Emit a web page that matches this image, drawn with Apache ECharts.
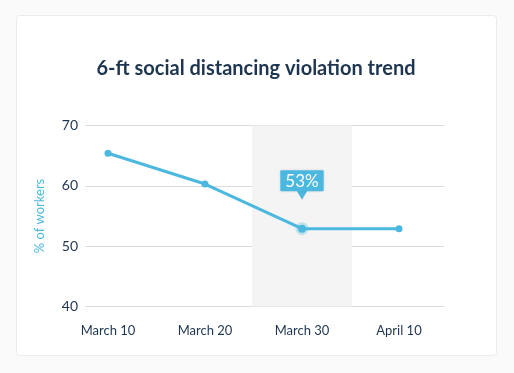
<!DOCTYPE html>
<html><head><meta charset="utf-8">
<script src="https://cdn.jsdelivr.net/npm/echarts@6/dist/echarts.min.js"></script>
<style>html,body{margin:0;padding:0;background:#fafafa;}#c{width:514px;height:373px;}</style>
</head><body><div id="c"></div>
<script>
const categories = ['March 10', 'March 20', 'March 30', 'April 10'];
const workerPct = [65.4, 60.3, 52.9, 52.9];
const highlightIndex = 2;
const yTicks = [40, 50, 60, 70];

const C = '#4cb8df';
const navy = '#1e3550';
const chart = echarts.init(document.getElementById('c'));
const lineData = workerPct.map((v, i) => i === highlightIndex ? {
  value: v,
  symbolSize: 8,
  itemStyle: { color: C, borderColor: 'rgba(76,184,223,0.3)', borderWidth: 5 },
  label: {
    show: true, position: 'top', distance: 31,
    formatter: p => Math.round(p.value) + '%',
    color: '#fff', fontFamily: 'Lato', fontSize: 17, fontWeight: 'normal',
    backgroundColor: C, padding: [3, 5, 1, 5], borderRadius: 1,
    shadowColor: 'rgba(0,0,0,0.12)', shadowBlur: 3
  }
} : v);
const bandData = categories.map((c, i) => i === highlightIndex ? yTicks[yTicks.length - 1] : '-');

chart.setOption({
  backgroundColor: '#fafafa',
  graphic: [{
    type: 'rect', z: -10, silent: true,
    shape: { x: 16.5, y: 15.5, width: 480, height: 340, r: 3 },
    style: { fill: '#fff', stroke: '#ebebeb', lineWidth: 1 }
  }],
  title: {
    text: '6-ft social distancing violation trend',
    left: 251, textAlign: 'center', top: 54,
    textStyle: { fontFamily: 'Lato', fontWeight: 'bold', fontSize: 20, color: navy }
  },
  grid: [
    { left: 59.5, right: 66.5, top: 125.5, bottom: 66.5 },
    { left: 85, right: 70, top: 125.5, bottom: 66.5 }
  ],
  xAxis: [
    { type: 'category', data: categories, gridIndex: 0, boundaryGap: true,
      axisLine: { show: false }, axisTick: { show: false },
      axisLabel: { margin: 18, color: navy, fontFamily: 'Lato', fontSize: 13 } },
    { type: 'value', gridIndex: 1, show: false, min: 0, max: 1 }
  ],
  yAxis: [
    { type: 'value', gridIndex: 0, min: 40, max: 70, interval: 10, show: false },
    { type: 'value', gridIndex: 1, min: 40, max: 70, interval: 10,
      name: '% of workers', nameLocation: 'middle', nameGap: 39,
      nameTextStyle: { color: C, fontFamily: 'Lato', fontSize: 13 },
      axisLine: { show: false }, axisTick: { show: false },
      axisLabel: { margin: 7, color: navy, fontFamily: 'Lato', fontSize: 14 },
      splitLine: { lineStyle: { color: '#dcdcdc', width: 1 } } }
  ],
  series: [
    { type: 'bar', xAxisIndex: 0, yAxisIndex: 0, data: bandData, barWidth: '103%',
      itemStyle: { color: '#f4f4f4' }, silent: true, z: 0 },
    { type: 'line', xAxisIndex: 0, yAxisIndex: 0, data: lineData, z: 5,
      symbol: 'circle', symbolSize: 7, showAllSymbol: true,
      lineStyle: { color: C, width: 3 }, itemStyle: { color: C },
      markPoint: {
        silent: true, symbol: 'triangle', symbolRotate: 180, symbolSize: [12, 10],
        symbolOffset: [0, -34], itemStyle: { color: C }, label: { show: false },
        data: [{ coord: [categories[highlightIndex], workerPct[highlightIndex]] }]
      } }
  ],
  animation: false
});
</script></body></html>
